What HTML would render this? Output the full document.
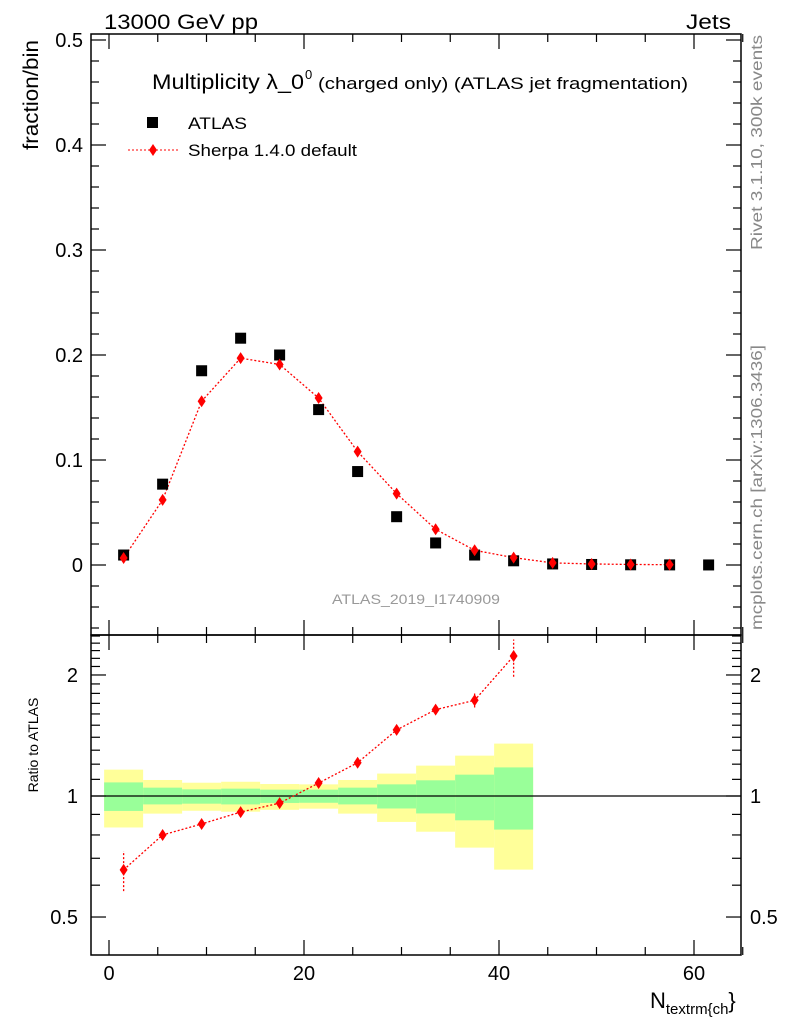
<!DOCTYPE html>
<html><head><meta charset="utf-8"><style>
body{margin:0;background:#fff;font-family:"Liberation Sans",sans-serif}
svg text{font-family:"Liberation Sans",sans-serif}
</style></head><body>
<svg id="c" width="786" height="1024" viewBox="0 0 786 1024" xmlns="http://www.w3.org/2000/svg">
<text x="104" y="29" font-size="21" textLength="154" lengthAdjust="spacingAndGlyphs">13000 GeV pp</text>
<text x="686" y="29" font-size="21" textLength="45" lengthAdjust="spacingAndGlyphs">Jets</text>
<text x="152" y="89" font-size="21" textLength="152" lengthAdjust="spacingAndGlyphs">Multiplicity λ_0</text>
<text x="305" y="79" font-size="13">0</text>
<text x="318" y="89" font-size="17" textLength="370" lengthAdjust="spacingAndGlyphs">(charged only) (ATLAS jet fragmentation)</text>
<text transform="translate(38,40) rotate(-90)" font-size="21" text-anchor="end" textLength="110" lengthAdjust="spacingAndGlyphs">fraction/bin</text>
<text transform="translate(38,745) rotate(-90)" font-size="14" text-anchor="middle">Ratio to ATLAS</text>
<text transform="translate(762,250) rotate(-90)" font-size="16" fill="#888" textLength="215" lengthAdjust="spacingAndGlyphs">Rivet 3.1.10,  300k events</text>
<text transform="translate(762,630) rotate(-90)" font-size="16" fill="#888" textLength="285" lengthAdjust="spacingAndGlyphs">mcplots.cern.ch [arXiv:1306.3436]</text>
<text x="332" y="604" font-size="14" fill="#999" textLength="168" lengthAdjust="spacingAndGlyphs">ATLAS_2019_I1740909</text>
<text x="650" y="1008" font-size="22">N<tspan font-size="15" dy="6">textrm{ch</tspan><tspan font-size="22" dy="-6">}</tspan></text>
<g>
<rect x="147" y="117" width="11" height="11" fill="#000"/>
<text x="188" y="129" font-size="17" textLength="59" lengthAdjust="spacingAndGlyphs">ATLAS</text>
<line x1="128" y1="150" x2="178" y2="150" stroke="red" stroke-dasharray="2,2"/>
<polygon points="153,144 157,150 153,156 149,150" fill="red"/>
<text x="188" y="156" font-size="17" textLength="169" lengthAdjust="spacingAndGlyphs">Sherpa 1.4.0 default</text>
</g>
<g id="g"></g>
</svg>
<script>
const xCenters=[1.5,5.5,9.5,13.5,17.5,21.5,25.5,29.5,33.5,37.5,41.5,45.5,49.5,53.5,57.5,61.5];
const atlasVals=[0.0095,0.077,0.185,0.216,0.2,0.148,0.089,0.046,0.021,0.0095,0.004,0.001,0.0005,0.0002,0.0001,0.00005];
const sherpaVals=[0.0067,0.062,0.156,0.197,0.191,0.159,0.108,0.068,0.034,0.014,0.007,0.002,0.001,0.0005,0.0003];
const ratioVals=[0.655,0.80,0.852,0.912,0.96,1.077,1.21,1.46,1.64,1.73,2.23];
const ratioErrLo=[0.58,0.79,0.845,0.905,0.955,1.07,1.20,1.44,1.61,1.66,1.98];
const ratioErrHi=[0.73,0.81,0.86,0.92,0.965,1.085,1.22,1.48,1.68,1.82,2.45];
const binEdges=[-0.5,3.5,7.5,11.5,15.5,19.5,23.5,27.5,31.5,35.5,39.5,43.5];
const yellowHi=[1.163,1.096,1.079,1.085,1.071,1.069,1.096,1.137,1.19,1.26,1.35];
const greenHi=[1.081,1.049,1.039,1.043,1.037,1.037,1.049,1.069,1.094,1.13,1.178];
const greenLo=[0.918,0.953,0.957,0.953,0.961,0.962,0.953,0.931,0.905,0.87,0.825];
const yellowLo=[0.835,0.904,0.919,0.914,0.924,0.930,0.904,0.862,0.815,0.744,0.656];
const mainTicks=[0,0.1,0.2,0.3,0.4,0.5];
const xTicks=[0,20,40,60];
const ratioTicks=[0.5,1,2];

const L=91,R=741,T=34,MB=635,RB=955;
const X=v=>109+v*9.75;
const Y=v=>565-v*1050;
const YR=v=>796-Math.log10(v)*402;
const g=document.getElementById('g');
const NS='http://www.w3.org/2000/svg';
function mk(t,a,p){const e=document.createElementNS(NS,t);for(const k in a)e.setAttribute(k,a[k]);(p||g).appendChild(e);return e;}

for(let i=0;i<yellowHi.length;i++){
 const x0=X(binEdges[i]),x1=X(binEdges[i+1]);
 let e=mk('rect',{x:x0,y:YR(yellowHi[i]),width:x1-x0,height:YR(yellowLo[i])-YR(yellowHi[i]),fill:'#ffff99'});
 
 
 e=mk('rect',{x:x0,y:YR(greenHi[i]),width:x1-x0,height:YR(greenLo[i])-YR(greenHi[i]),fill:'#99ff99'});
 
 
}
let ln=mk('line',{x1:L,x2:R,y1:YR(1),y2:YR(1),stroke:'#000','stroke-width':1.2});



for(const [y0,y1,nm] of [[T,MB,'main-frame'],[MB,RB,'ratio-frame']]){
 const f=mk('rect',{x:L,y:y0,width:R-L,height:y1-y0,fill:'none',stroke:'#000','stroke-width':1.5});
 
 
}
function tick(x1,y1,x2,y2){mk('line',{x1,y1,x2,y2,stroke:'#000','stroke-width':1.2});}
for(let v=0;v<=65;v+=5){
 const x=X(v),len=(v%20===0)?15:8;
 tick(x,T,x,T+len);tick(x,MB,x,MB-len);tick(x,MB,x,MB+len);tick(x,RB,x,RB-len);
}
xTicks.forEach(v=>{const t=mk('text',{x:X(v),y:RB+25,'font-size':20,'text-anchor':'middle'});t.textContent=v;
 
 });
for(let k=-3;k<=25;k++){const v=k*0.02;const y=Y(v);if(y<T||y>MB)continue;const len=(k%5===0)?15:8;
 tick(L,y,L+len,y);tick(R,y,R-len,y);}
mainTicks.forEach(v=>{const t=mk('text',{x:83,y:Y(v)+7,'font-size':20,'text-anchor':'end'});t.textContent=v===0?'0':v.toFixed(1);
 
 });
for(let k=5;k<=25;k++){const v=k/10;const y=YR(v);if(y<MB||y>RB)continue;const len=(k===5||k===10||k===20)?15:9;
 tick(L,y,L+len,y);tick(R,y,R-len,y);}
ratioTicks.forEach(v=>{
 let t=mk('text',{x:78,y:YR(v)+7,'font-size':20,'text-anchor':'end'});t.textContent=v;
 
 
 t=mk('text',{x:750,y:YR(v)+7,'font-size':20});t.textContent=v;
 
 });

let pl=mk('polyline',{points:sherpaVals.map((v,i)=>X(xCenters[i])+','+Y(v)).join(' '),fill:'none',stroke:'red','stroke-width':1.3,'stroke-dasharray':'2,2'});


atlasVals.forEach((v,i)=>{const r=mk('rect',{x:X(xCenters[i])-5.5,y:Y(v)-5.5,width:11,height:11,fill:'#000'});
 
 });
function diamond(x,y){return mk('polygon',{points:`${x},${y-6} ${x+4},${y} ${x},${y+6} ${x-4},${y}`,fill:'red'});}
sherpaVals.forEach((v,i)=>{const d=diamond(X(xCenters[i]),Y(v));
 
 });
pl=mk('polyline',{points:ratioVals.map((v,i)=>X(xCenters[i])+','+YR(v)).join(' '),fill:'none',stroke:'red','stroke-width':1.3,'stroke-dasharray':'2,2'});


ratioVals.forEach((v,i)=>{const x=X(xCenters[i]);
 const e=mk('line',{x1:x,x2:x,y1:YR(ratioErrLo[i]),y2:YR(ratioErrHi[i]),stroke:'red','stroke-width':1.3,'stroke-dasharray':'2,2'});
 
 
 const d=diamond(x,YR(v));
 
 });
</script>
</body></html>
